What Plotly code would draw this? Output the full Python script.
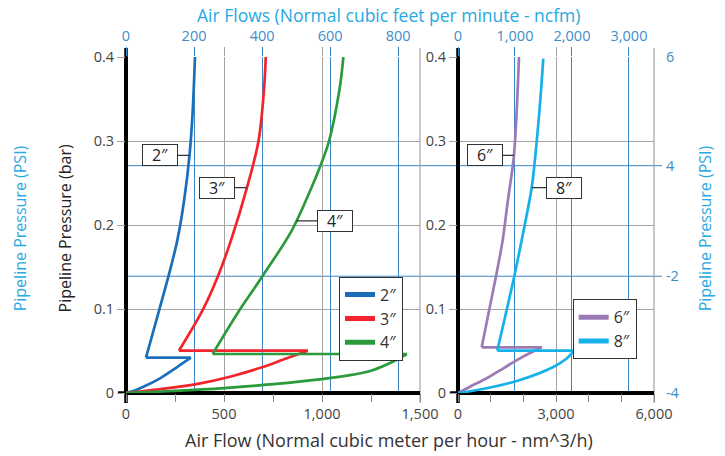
import numpy as np
import plotly.graph_objects as go

# ---------------- data ----------------
left_sizes = ["2″", "3″", "4″"]
right_sizes = ["6″", "8″"]

flow_2_lower_x = [0, 45, 89, 174, 259, 331]
flow_2_lower_y = [0, 0.003, 0.0075, 0.0175, 0.0306, 0.042]
flow_2_upper_x = [102, 160, 216, 262, 297, 324, 339, 352]
flow_2_upper_y = [0.042, 0.091, 0.1385, 0.182, 0.23, 0.283, 0.33, 0.40]

flow_3_lower_x = [0, 190, 379, 540, 686, 820, 928]
flow_3_lower_y = [0, 0.005, 0.0115, 0.02, 0.030, 0.0414, 0.0504]
flow_3_upper_x = [270, 393, 469, 536, 617, 676, 704, 713]
flow_3_upper_y = [0.0504, 0.0996, 0.139, 0.182, 0.2444, 0.30, 0.361, 0.40]

flow_4_lower_x = [0, 250, 500, 750, 1000, 1150, 1250, 1350, 1433]
flow_4_lower_y = [0, 0.0025, 0.0058, 0.0105, 0.0165, 0.0215, 0.0265, 0.036, 0.0464]
flow_4_upper_x = [442, 582, 696, 847, 946, 992, 1036, 1089, 1109]
flow_4_upper_y = [0.0464, 0.0996, 0.139, 0.194, 0.2444, 0.2706, 0.30, 0.361, 0.40]

flow_6_lower_x = [0, 367, 878, 1388, 1898, 2562]
flow_6_lower_y = [0, 0.0075, 0.0175, 0.0294, 0.0413, 0.0544]
flow_6_upper_x = [725, 1163, 1368, 1530, 1660, 1714, 1790, 1867]
flow_6_upper_y = [0.0544, 0.139, 0.182, 0.23, 0.2655, 0.2833, 0.33, 0.40]

flow_8_lower_x = [0, 878, 1898, 2918, 3327, 3551]
flow_8_lower_y = [0, 0.0056, 0.0155, 0.031, 0.041, 0.0504]
flow_8_upper_x = [1203, 1723, 1950, 2256, 2336, 2495, 2611]
flow_8_upper_y = [0.0504, 0.139, 0.182, 0.2444, 0.2706, 0.337, 0.398]

label_y = {"2″": 0.283, "3″": 0.2444, "4″": 0.205, "6″": 0.283, "8″": 0.2444}

bar_ticks = [0, 0.1, 0.2, 0.3, 0.4]
bar_ticktext = ["0", "0.1", "0.2", "0.3", "0.4"]
left_x_ticks = [0, 500, 1000, 1500]
right_x_ticks = [0, 3000, 6000]
left_ncfm_ticks = [0, 200, 400, 600, 800]
right_ncfm_ticks = [0, 1000, 2000, 3000]
psi_tick_bar = [0, 0.139, 0.2706, 0.4]
psi_tick_text = ["-4", "-2", "4", "6"]

# ---------------- styles ----------------
colors = {"2″": "#1b6fba", "3″": "#f2242c", "4″": "#2b9a3c",
          "6″": "#9a7bb6", "8″": "#17b1ea"}
label_ax = {"2″": -30, "3″": -30, "4″": 39, "6″": -29, "8″": 32}
FONT = "Open Sans"
GRID = "#a3a3a3"
BLUEGRID = "#3a87c7"
TICKBLUE = "#3d8cc8"
LIGHTBLUE = "#27a9e1"

series = {
    "2″": (flow_2_lower_x, flow_2_lower_y, flow_2_upper_x, flow_2_upper_y),
    "3″": (flow_3_lower_x, flow_3_lower_y, flow_3_upper_x, flow_3_upper_y),
    "4″": (flow_4_lower_x, flow_4_lower_y, flow_4_upper_x, flow_4_upper_y),
    "6″": (flow_6_lower_x, flow_6_lower_y, flow_6_upper_x, flow_6_upper_y),
    "8″": (flow_8_lower_x, flow_8_lower_y, flow_8_upper_x, flow_8_upper_y),
}

fig = go.Figure()
annotations = []
for name, (lx, ly, ux, uy) in series.items():
    left = name in left_sizes
    xa, ya = ("x", "y") if left else ("x2", "y2")
    lw = dict(color=colors[name], width=2.7)
    # lower branch
    fig.add_trace(go.Scatter(x=lx, y=ly, mode="lines", xaxis=xa, yaxis=ya,
                             line=dict(shape="spline", smoothing=1.0, **lw),
                             showlegend=False, hoverinfo="skip"))
    # horizontal drop back at the peak pressure
    fig.add_trace(go.Scatter(x=[lx[-1], ux[0]], y=[ly[-1], uy[0]], mode="lines",
                             xaxis=xa, yaxis=ya, line=lw, showlegend=False, hoverinfo="skip"))
    # upper branch
    fig.add_trace(go.Scatter(x=ux, y=uy, mode="lines", xaxis=xa, yaxis=ya,
                             line=dict(shape="spline", smoothing=1.0, **lw),
                             showlegend=False, hoverinfo="skip"))
    # legend swatch (thicker line)
    fig.add_trace(go.Scatter(x=[None], y=[None], mode="lines", xaxis=xa, yaxis=ya,
                             name=name, line=dict(color=colors[name], width=5),
                             legend="legend" if left else "legend2"))
    ly_ = label_y[name]
    lx_ = float(np.interp(ly_, uy, ux))
    annotations.append(dict(x=lx_, y=ly_, xref=xa, yref=ya, text=name,
                            showarrow=True, arrowhead=0, arrowwidth=1.3,
                            arrowcolor="#333", ax=label_ax[name], ay=0,
                            font=dict(family=FONT, size=16, color="#222"),
                            bgcolor="white", bordercolor="#333", borderwidth=1,
                            borderpad=1, width=32, height=18, standoff=0))

# titles
annotations += [
    dict(text="Air Flow (Normal cubic meter per hour - nm^3/h)", xref="paper", yref="paper",
         x=0.498, y=-0.14, showarrow=False, yanchor="middle",
         font=dict(family=FONT, size=18, color="#333")),
    dict(text="Air Flows (Normal cubic feet per minute - ncfm)", xref="paper", yref="paper",
         x=0.498, y=1.125, showarrow=False, yanchor="middle",
         font=dict(family=FONT, size=17.5, color=LIGHTBLUE)),
    dict(text="Pipeline Pressure (bar)", xref="paper", yref="paper", textangle=-90,
         x=-0.1155, y=0.49, showarrow=False, xanchor="center", yanchor="middle",
         font=dict(family=FONT, size=16, color="#222")),
    dict(text="Pipeline Pressure (PSI)", xref="paper", yref="paper", textangle=-90,
         x=-0.2008, y=0.49, showarrow=False, xanchor="center", yanchor="middle",
         font=dict(family=FONT, size=16, color=LIGHTBLUE)),
    dict(text="Pipeline Pressure (PSI)", xref="paper", yref="paper", textangle=-90,
         x=1.0966, y=0.49, showarrow=False, xanchor="center", yanchor="middle",
         font=dict(family=FONT, size=16, color=LIGHTBLUE)),
]

shapes = []
# blue horizontal PSI grid lines spanning both panels
for v in psi_tick_bar:
    if 0 < v < 0.4:
        shapes.append(dict(type="line", xref="paper", yref="y", x0=0, x1=1.015, y0=v, y1=v,
                           line=dict(color=BLUEGRID, width=1), layer="below"))
# axis crosses & right borders (extending slightly beyond the plot areas)
for xd, xr, ext in (("x domain", "x", 8 / 294), ("x2 domain", "x2", 8 / 196)):
    yr = "y" if xr == "x" else "y2"
    shapes.append(dict(type="line", xref=xd, yref="paper", x0=1, x1=1, y0=-0.03, y1=1.027,
                       line=dict(color=GRID, width=1.2), layer="below"))
    shapes.append(dict(type="line", xref=xd, yref=yr, x0=-ext, x1=1, y0=0, y1=0,
                       line=dict(color="black", width=3.5), layer="below"))
    shapes.append(dict(type="line", xref=xd, yref="paper", x0=0, x1=0, y0=-0.03, y1=1.027,
                       line=dict(color="black", width=3.5), layer="below"))

tickfont = dict(family=FONT, size=14.5, color="#444")
dom_left = [0, 294 / 528]
dom_right = [332 / 528, 1]

def bottom_axis(dom, rng, ticks, minor_dtick):
    return dict(domain=dom, range=rng, tickvals=ticks, tickformat=",", ticks="outside",
                ticklen=8, tickcolor="rgba(0,0,0,0)", tickfont=tickfont,
                showgrid=True, gridcolor=GRID, gridwidth=1,
                zeroline=True, zerolinecolor="black", zerolinewidth=3.5, showline=False,
                minor=dict(dtick=minor_dtick, ticks="outside", ticklen=8, tickcolor="#888",
                           showgrid=False), fixedrange=True)

def top_axis(over, dom, rng, ticks):
    return dict(overlaying=over, side="top", domain=dom, range=rng, tickvals=ticks,
                tickformat=",", ticks="outside", ticklen=9, tickcolor=BLUEGRID,
                tickfont=dict(family=FONT, size=14.5, color=TICKBLUE),
                showgrid=True, gridcolor=BLUEGRID, gridwidth=1, zeroline=False,
                anchor="y" if over == "x" else "y2")

def top_gray(over, dom, rng, ticks):
    return dict(overlaying=over, side="top", domain=dom, range=rng, tickvals=ticks,
                ticks="outside", ticklen=9, tickcolor=GRID, showticklabels=False,
                showgrid=False, zeroline=False, anchor="y" if over == "x" else "y2")

def yaxis(anchor):
    return dict(anchor=anchor, domain=[0, 1], range=[0, 0.4], tickvals=bar_ticks,
                ticktext=bar_ticktext, ticks="outside", ticklen=8, tickcolor=GRID,
                tickfont=tickfont, showgrid=True, gridcolor=GRID, gridwidth=1,
                zeroline=True, zerolinecolor="black", zerolinewidth=3.5, showline=False)

fig.update_layout(
    width=725, height=456,
    margin=dict(l=126, r=71, t=57, b=63),
    paper_bgcolor="white", plot_bgcolor="white",
    font=dict(family=FONT),
    xaxis=dict(anchor="y", **bottom_axis(dom_left, [0, 1500], left_x_ticks, 250)),
    xaxis2=dict(anchor="y2", **bottom_axis(dom_right, [0, 6000], right_x_ticks, 1000)),
    xaxis3=top_axis("x", dom_left, [0, 864], left_ncfm_ticks),
    xaxis4=top_axis("x2", dom_right, [0, 3439], right_ncfm_ticks),
    xaxis5=top_gray("x", dom_left, [0, 1500], left_x_ticks[1:-1]),
    xaxis6=top_gray("x2", dom_right, [0, 6000], right_x_ticks[1:-1]),
    yaxis=yaxis("x"),
    yaxis2=yaxis("x2"),
    yaxis3=dict(overlaying="y2", anchor="x2", side="right", range=[0, 0.4],
                tickvals=psi_tick_bar, ticktext=psi_tick_text, ticks="outside",
                ticklen=8, tickcolor="rgba(0,0,0,0)",
                tickfont=dict(family=FONT, size=14.5, color=TICKBLUE),
                showgrid=False, zeroline=False),
    legend=dict(x=213 / 528, y=(393 - 276.7) / 336, xanchor="left", yanchor="top",
                bgcolor="white", bordercolor="#333", borderwidth=1,
                font=dict(family=FONT, size=16, color="#333"), tracegroupgap=0,
                itemwidth=30),
    legend2=dict(x=(572.7 - 126) / 528, y=(393 - 299.3) / 336, xanchor="left", yanchor="top",
                 bgcolor="white", bordercolor="#333", borderwidth=1,
                 font=dict(family=FONT, size=16, color="#333"), tracegroupgap=0,
                 itemwidth=30),
    annotations=annotations,
    shapes=shapes,
)

# empty traces so the overlaid axes render
fig.add_trace(go.Scatter(x=[None], y=[None], xaxis="x3", yaxis="y", showlegend=False))
fig.add_trace(go.Scatter(x=[None], y=[None], xaxis="x4", yaxis="y2", showlegend=False))
fig.add_trace(go.Scatter(x=[None], y=[None], xaxis="x5", yaxis="y", showlegend=False))
fig.add_trace(go.Scatter(x=[None], y=[None], xaxis="x6", yaxis="y2", showlegend=False))
fig.add_trace(go.Scatter(x=[None], y=[None], xaxis="x2", yaxis="y3", showlegend=False))

# remove the default 8px page margin so the 725x456 figure fills the window exactly
fig.write_html("out.html",
               config={"displayModeBar": False},
               post_script="document.body.style.margin='0px';document.body.style.padding='0px';")
